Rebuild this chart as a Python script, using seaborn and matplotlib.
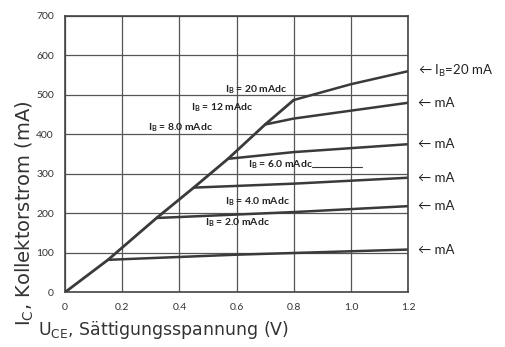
import numpy as np
import pandas as pd
import matplotlib
matplotlib.use('Agg')
import matplotlib.pyplot as plt
import seaborn as sns

# saturation line (knee points)
sat_u = [0.0, 0.15, 0.32, 0.45, 0.57, 0.70, 0.80]
sat_i = [0, 82, 188, 265, 338, 425, 487]

# collector current curves, one per base current
curve_names = ['2.0', '4.0', '6.0', '8.0', '12', '20']
curve_u = {
    '2.0': [0.15, 0.6, 1.2],
    '4.0': [0.32, 0.8, 1.2],
    '6.0': [0.45, 0.8, 1.2],
    '8.0': [0.57, 0.8, 1.2],
    '12': [0.70, 0.8, 1.0, 1.2],
    '20': [0.80, 0.85, 1.0, 1.2],
}
curve_i = {
    '2.0': [82, 95, 108],
    '4.0': [188, 203, 218],
    '6.0': [265, 275, 290],
    '8.0': [338, 355, 375],
    '12': [425, 440, 460, 480],
    '20': [487, 497, 527, 560],
}

# inline labels (x, y in data units)
label_text = ['2.0 mAdc', '4.0 mAdc', '6.0 mAdc', '8.0 mAdc', '12 mAdc', '20 mAdc']
label_x = [0.49, 0.56, 0.64, 0.29, 0.44, 0.56]
label_y = [177, 230, 322, 416, 468, 512]

# right-hand markers
right_y = [108, 218, 290, 375, 480, 560]
right_text = ['mA', 'mA', 'mA', 'mA', 'mA', r'$\mathregular{I_B}$=20 mA']

x_ticks = [0, 0.2, 0.4, 0.6, 0.8, 1.0, 1.2]
x_labels = ['0', '0.2', '0.4', '0.6', '0.8', '1.0', '1.2']
y_ticks = [0, 100, 200, 300, 400, 500, 600, 700]

rows = []
for n in curve_names:
    for u, i in zip(curve_u[n], curve_i[n]):
        rows.append({'U': u, 'I': i, 'IB': n})
df = pd.DataFrame(rows)
sat = pd.DataFrame({'U': sat_u, 'I': sat_i})

sns.set_style('white')
plt.rcParams['font.family'] = ['Lato', 'DejaVu Sans']

fig = plt.figure(figsize=(5.05, 3.47), dpi=100)
ax = fig.add_axes([0.129, 0.158, 0.679, 0.796])

line_col = '#3a3a3a'
sns.lineplot(data=sat, x='U', y='I', ax=ax, color=line_col, lw=2.0, sort=False)
for n in curve_names:
    sns.lineplot(data=df[df['IB'] == n], x='U', y='I', ax=ax, color=line_col,
                 lw=1.8, sort=False)

ax.set_xlim(0, 1.2)
ax.set_ylim(0, 700)
ax.set_xticks(x_ticks)
ax.set_xticklabels(x_labels)
ax.set_yticks(y_ticks)
ax.grid(True, color='#555555', lw=0.9)
for s in ax.spines.values():
    s.set_color('#444444')
    s.set_linewidth(1.2)
ax.tick_params(labelsize=7.5, colors='#333333', length=0, pad=8)
ax.set_xlabel('')
ax.set_ylabel('')

for t, x, y in zip(label_text, label_x, label_y):
    ax.text(x, y, r'$\mathregular{I_B}$ = ' + t, fontsize=7.5, color='#222222',
            va='center', ha='left', fontweight='bold')
# leader line after the 6.0 mAdc label
ax.plot([0.865, 1.04], [318, 318], color=line_col, lw=0.8)

for y, t in zip(right_y, right_text):
    ax.annotate('\u2190 ' + t, xy=(1.2, y), xytext=(1.235, y),
                xycoords='data', textcoords='data', annotation_clip=False,
                fontsize=9.5, color='#222222', va='center', ha='left')

fig.text(0.05, 0.385, r'$\mathregular{I_C}$, Kollektorstrom (mA)', rotation=90,
         fontsize=14, color='#333333', va='center', ha='center',
         family='DejaVu Sans')
fig.text(0.075, 0.05, r'$\mathregular{U_{CE}}$, Sättigungsspannung (V)',
         fontsize=12.5, color='#333333', va='center', ha='left',
         family='DejaVu Sans')

fig.savefig('out.png', dpi=100, facecolor='white')
